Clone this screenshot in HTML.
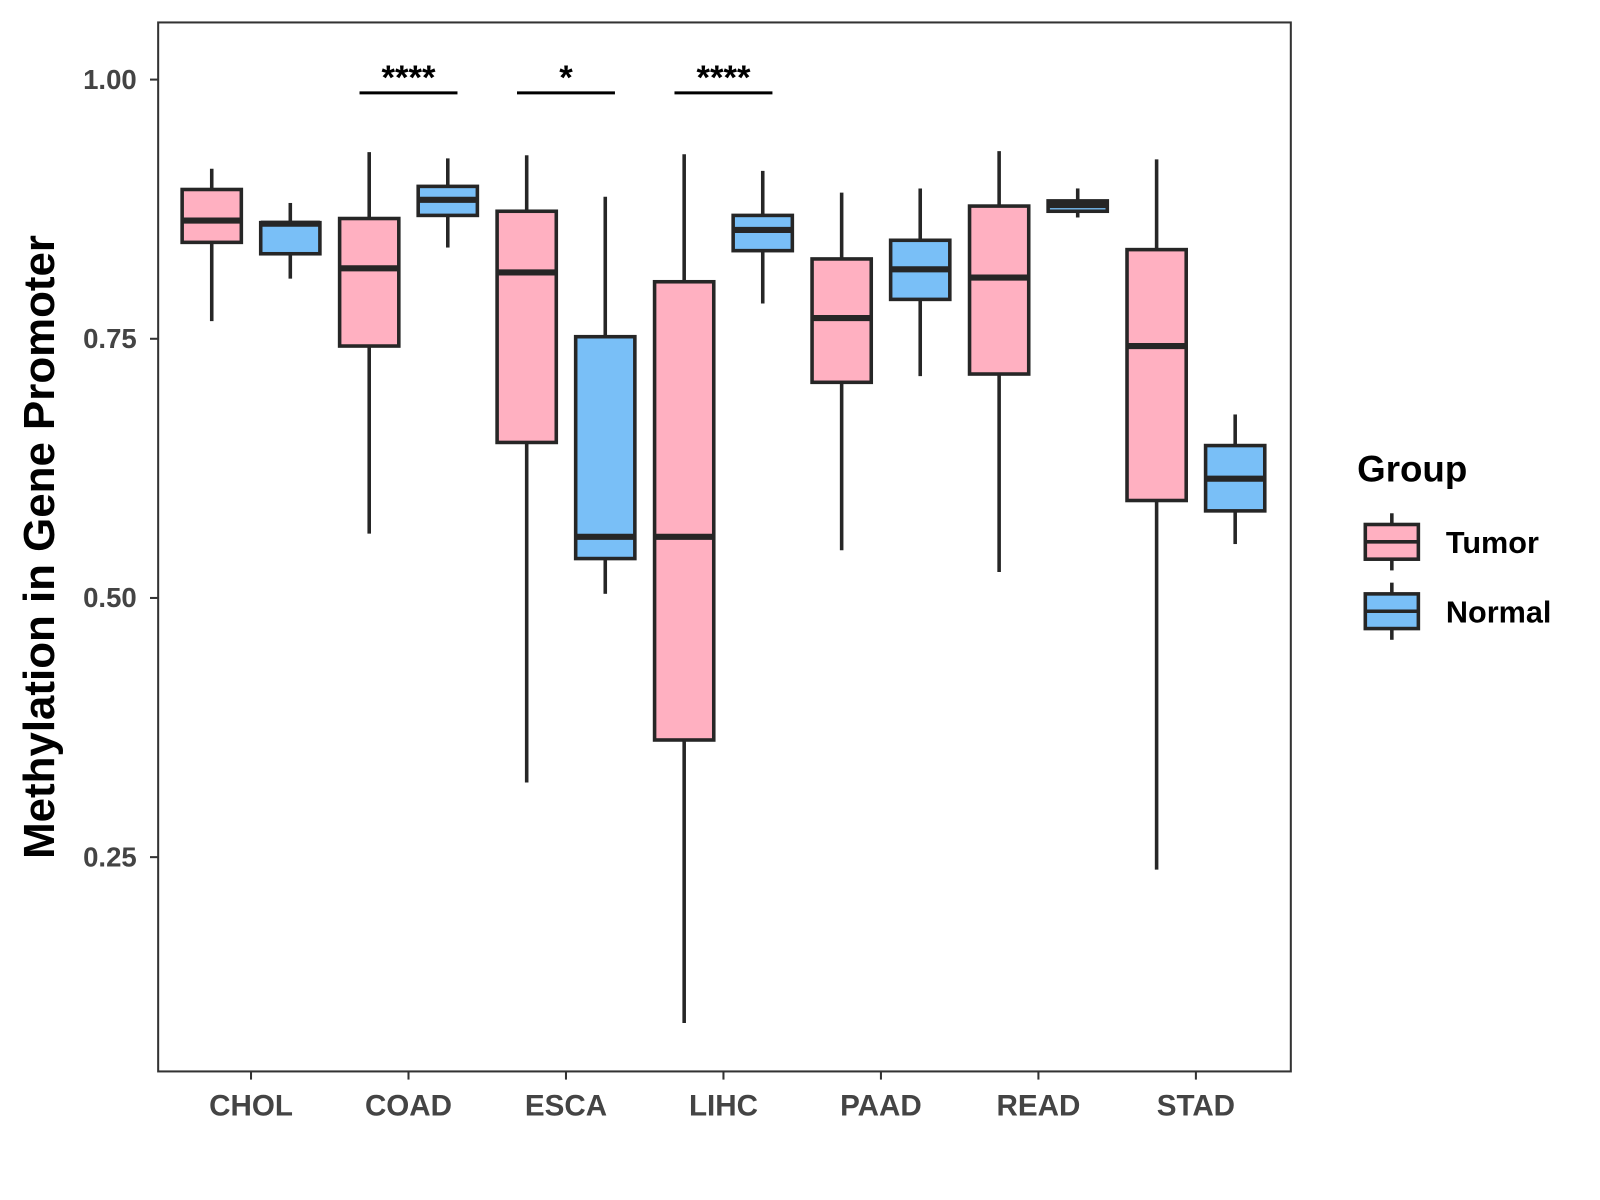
<!DOCTYPE html>
<html><head><meta charset="utf-8"><style>
html,body{margin:0;padding:0;background:#fff}
svg{display:block;font-family:"Liberation Sans",Arial,sans-serif}
</style></head><body>
<svg id="chart" width="1600" height="1200" viewBox="0 0 1568 1176">
<rect x="155" y="22" width="1110" height="1028" fill="#fff" stroke="#333" stroke-width="2"/>
<g id="marks"></g>
<text transform="translate(53,536) rotate(-90)" text-anchor="middle" font-size="43" font-weight="bold" fill="#000">Methylation in Gene Promoter</text>
<g>
<text x="1330" y="472" font-size="36" font-weight="bold" fill="#000">Group</text>
<g>
<line x1="1364" y1="503" x2="1364" y2="559" stroke="#262626" stroke-width="3.5"/>
<rect x="1338" y="514" width="52" height="34" fill="#FFB0C1" stroke="#262626" stroke-width="3.5"/>
<line x1="1338" y1="531" x2="1390" y2="531" stroke="#262626" stroke-width="3.5"/>
<text x="1417" y="542" font-size="30" font-weight="bold" fill="#000">Tumor</text>
</g>
<g>
<line x1="1364" y1="571" x2="1364" y2="627" stroke="#262626" stroke-width="3.5"/>
<rect x="1338" y="582" width="52" height="34" fill="#79BFF7" stroke="#262626" stroke-width="3.5"/>
<line x1="1338" y1="599" x2="1390" y2="599" stroke="#262626" stroke-width="3.5"/>
<text x="1417" y="610" font-size="30" font-weight="bold" fill="#000">Normal</text>
</g>
</g>
</svg>
<script>
const categories = ["CHOL","COAD","ESCA","LIHC","PAAD","READ","STAD"];
// [lowWhisker, Q1, median, Q3, highWhisker]
const tumorStats = [
 [0.767,0.843,0.864,0.894,0.914],
 [0.562,0.743,0.818,0.866,0.930],
 [0.322,0.650,0.814,0.873,0.927],
 [0.090,0.363,0.559,0.805,0.928],
 [0.546,0.708,0.770,0.827,0.891],
 [0.525,0.716,0.809,0.878,0.931],
 [0.238,0.594,0.743,0.836,0.923]
];
const normalStats = [
 [0.808,0.832,0.861,0.862,0.881],
 [0.838,0.869,0.884,0.897,0.924],
 [0.504,0.538,0.559,0.752,0.887],
 [0.784,0.835,0.855,0.869,0.912],
 [0.714,0.788,0.817,0.845,0.895],
 [0.867,0.873,0.879,0.883,0.895],
 [0.552,0.584,0.615,0.647,0.677]
];
const yTicks = [0.25,0.50,0.75,1.00];
const yTickLabels = ["0.25","0.50","0.75","1.00"];
const sigCategories = ["COAD","ESCA","LIHC"];
const sigLabels = ["****","*","****"];

const NS="http://www.w3.org/2000/svg";
const g=document.getElementById('marks');
const y=v=>78+(1-v)*1016;
const x=i=>246+i*154.33;
function mk(tag,attrs,parent){const e=document.createElementNS(NS,tag);for(const k in attrs)e.setAttribute(k,attrs[k]);(parent||g).appendChild(e);return e;}

yTicks.forEach((t,i)=>{
  const tk=mk('line',{x1:147,x2:155,y1:y(t),y2:y(t),stroke:'#333','stroke-width':2});
  
  
  const lb=mk('text',{x:134,y:y(t)+9,'text-anchor':'end','font-size':27,'font-weight':'bold',fill:'#444'});
  lb.textContent=yTickLabels[i];
  
  
});
categories.forEach((c,i)=>{
  const tk=mk('line',{x1:x(i),x2:x(i),y1:1050,y2:1058,stroke:'#333','stroke-width':2});
  
  
  const lb=mk('text',{x:x(i),y:1093,'text-anchor':'middle','font-size':29,'font-weight':'bold',fill:'#444'});
  lb.textContent=c;
  
  
});
function box(cx,s,fill,name){
  const grp=mk('g',{});
  
  
  const w=29;
  mk('line',{x1:cx,x2:cx,y1:y(s[4]),y2:y(s[3]),stroke:'#262626','stroke-width':3.5},grp);
  mk('line',{x1:cx,x2:cx,y1:y(s[1]),y2:y(s[0]),stroke:'#262626','stroke-width':3.5},grp);
  mk('rect',{x:cx-w,y:y(s[3]),width:2*w,height:y(s[1])-y(s[3]),fill:fill,stroke:'#262626','stroke-width':3.5},grp);
  mk('line',{x1:cx-w,x2:cx+w,y1:y(s[2]),y2:y(s[2]),stroke:'#262626','stroke-width':6},grp);
}
categories.forEach((c,i)=>{
  box(x(i)-38.5,tumorStats[i],'#FFB0C1','box-tumor-'+c.toLowerCase());
  box(x(i)+38.5,normalStats[i],'#79BFF7','box-normal-'+c.toLowerCase());
});
sigCategories.forEach((c,k)=>{
  const i=categories.indexOf(c);
  const ln=mk('line',{x1:x(i)-48,x2:x(i)+48,y1:91,y2:91,stroke:'#000','stroke-width':3});
  
  
  const t=mk('text',{x:x(i),y:87,'text-anchor':'middle','font-size':34,'font-weight':'bold',fill:'#000'});
  t.textContent=sigLabels[k];
  
  
});
</script>
</body></html>
